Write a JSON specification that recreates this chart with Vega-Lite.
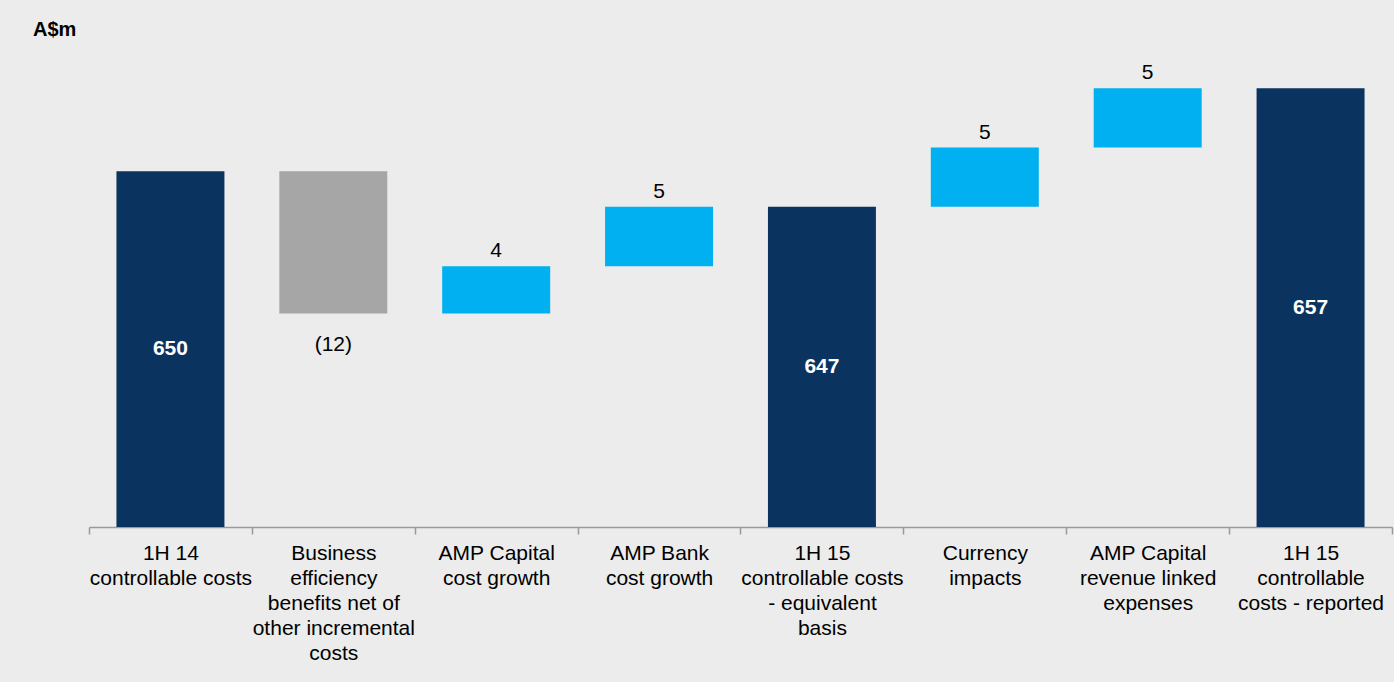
{
  "$schema": "https://vega.github.io/schema/vega-lite/v6.json",
  "width": 1303,
  "height": 498,
  "autosize": {"type": "none"},
  "padding": {"left": 89, "top": 29, "right": 2, "bottom": 155},
  "background": "#EBECEB",
  "title": {"text": "A$m", "anchor": "start", "frame": "group", "fontSize": 20, "fontWeight": "bold", "font": "Liberation Sans", "color": "#000000", "dx": -56, "offset": 0, "baseline": "alphabetic", "dy": 27},
  "config": {"view": {"stroke": null}},
  "data": {
    "values": [
      {"cat": "1H 14|controllable costs", "start": 0, "end": 650, "type": "total", "label": "650"},
      {"cat": "Business|efficiency|benefits net of|other incremental|costs", "start": 650, "end": 638, "type": "decrease", "label": "(12)"},
      {"cat": "AMP Capital|cost growth", "start": 638, "end": 642, "type": "increase", "label": "4"},
      {"cat": "AMP Bank|cost growth", "start": 642, "end": 647, "type": "increase", "label": "5"},
      {"cat": "1H 15|controllable costs|- equivalent|basis", "start": 0, "end": 647, "type": "total", "label": "647"},
      {"cat": "Currency|impacts", "start": 647, "end": 652, "type": "increase", "label": "5"},
      {"cat": "AMP Capital|revenue linked|expenses", "start": 652, "end": 657, "type": "increase", "label": "5"},
      {"cat": "1H 15|controllable|costs - reported", "start": 0, "end": 657, "type": "total", "label": "657"}
    ]
  },
  "encoding": {
    "x": {
      "field": "cat", "type": "nominal", "sort": null,
      "scale": {"paddingInner": 0.337, "paddingOuter": 0.1685},
      "axis": {
        "title": null, "labelExpr": "isString(datum.value) ? split(datum.value, '|') : ''", "labelAngle": 0,
        "labelFontSize": 21, "labelFont": "Liberation Sans", "labelColor": "#000000",
        "labelLineHeight": 25, "labelPadding": 8, "labelLimit": 400,
        "tickSize": 7, "tickWidth": 1.5, "tickColor": "#9A9A9A",
        "domainColor": "#9A9A9A", "domainWidth": 1.5,
        "bandPosition": 1.5075, "tickExtra": true, "tickOffset": -27.4, "labelOffset": 27.4, "grid": false
      }
    }
  },
  "layer": [
    {
      "mark": {"type": "bar"},
      "encoding": {
        "y": {"field": "start", "type": "quantitative", "scale": {"domain": [620, 662], "clamp": true}, "axis": null},
        "y2": {"field": "end"},
        "color": {"field": "type", "type": "nominal", "scale": {"domain": ["total", "decrease", "increase"], "range": ["#0B3360", "#A6A6A6", "#00B0F0"]}, "legend": null}
      }
    },
    {
      "transform": [{"filter": "datum.type == 'total'"}, {"calculate": "(max(datum.start, 620) + datum.end) / 2", "as": "mid"}],
      "mark": {"type": "text", "color": "#FFFFFF", "fontWeight": "bold", "fontSize": 21, "font": "Liberation Sans", "baseline": "middle"},
      "encoding": {
        "y": {"field": "mid", "type": "quantitative", "scale": {"domain": [620, 662], "clamp": true}},
        "text": {"field": "label"}
      }
    },
    {
      "transform": [{"filter": "datum.type == 'increase'"}],
      "mark": {"type": "text", "color": "#000000", "fontSize": 21, "font": "Liberation Sans", "baseline": "alphabetic", "dy": -9},
      "encoding": {
        "y": {"field": "end", "type": "quantitative", "scale": {"domain": [620, 662], "clamp": true}},
        "text": {"field": "label"}
      }
    },
    {
      "transform": [{"filter": "datum.type == 'decrease'"}],
      "mark": {"type": "text", "color": "#000000", "fontSize": 21, "font": "Liberation Sans", "baseline": "middle", "dy": 31},
      "encoding": {
        "y": {"field": "end", "type": "quantitative", "scale": {"domain": [620, 662], "clamp": true}},
        "text": {"field": "label"}
      }
    }
  ]
}
